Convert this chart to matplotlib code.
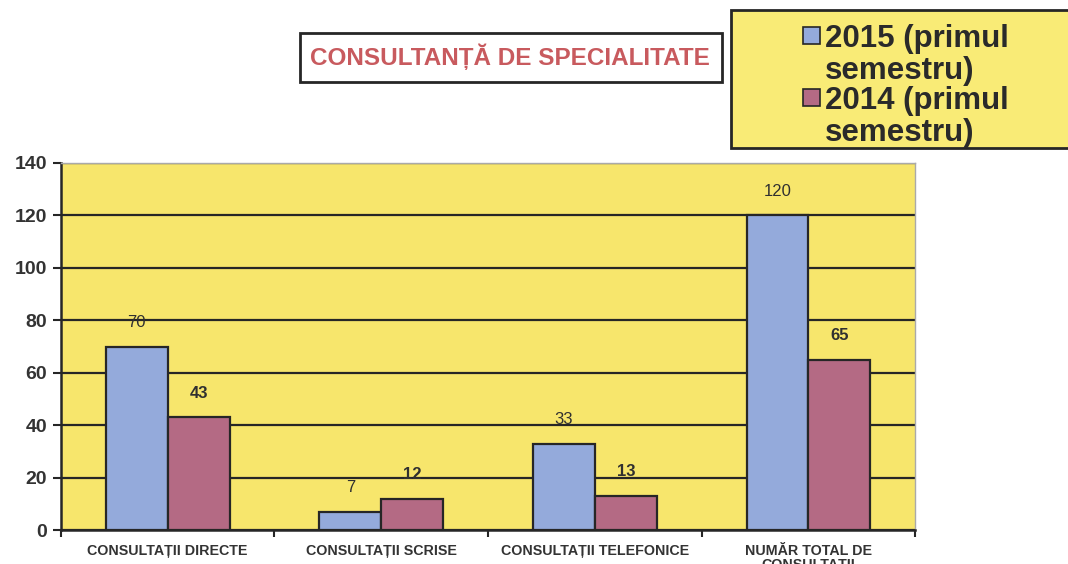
import matplotlib
matplotlib.use('Agg')
import matplotlib.pyplot as plt
from matplotlib.patches import Rectangle
import numpy as np

# data
categories = ['CONSULTAȚII DIRECTE', 'CONSULTAȚII SCRISE',
              'CONSULTAȚII TELEFONICE', 'NUMĂR TOTAL DE\nCONSULTAȚII']
series_names = ['2015 (primul\nsemestru)', '2014 (primul\nsemestru)']
values_2015 = [70, 7, 33, 120]
values_2014 = [43, 12, 13, 65]
yticks = [0, 20, 40, 60, 80, 100, 120, 140]
title = 'CONSULTANȚĂ DE SPECIALITATE'

plt.rcParams['font.family'] = ['Liberation Sans', 'DejaVu Sans']

YELLOW = '#F7E66C'
BLUE = '#94AADB'
MAROON = '#B46A84'
EDGE = '#262626'

fig = plt.figure(figsize=(10.68, 5.64), dpi=100)
ax = fig.add_axes([0.057, 0.060, 0.800, 0.651])
ax.set_facecolor(YELLOW)

x = np.arange(len(categories))
w = 0.29
b1 = ax.bar(x - w / 2, values_2015, w, color=BLUE, edgecolor=EDGE, linewidth=1.6, zorder=3)
b2 = ax.bar(x + w / 2, values_2014, w, color=MAROON, edgecolor=EDGE, linewidth=1.6, zorder=3)

for rect, v in zip(b1, values_2015):
    ax.annotate(str(v), (rect.get_x() + rect.get_width() / 2, v), xytext=(0, 12),
                textcoords='offset points', ha='center', va='bottom',
                fontsize=12, color='#303030', zorder=4)
for rect, v in zip(b2, values_2014):
    ax.annotate(str(v), (rect.get_x() + rect.get_width() / 2, v), xytext=(0, 12),
                textcoords='offset points', ha='center', va='bottom',
                fontsize=12, fontweight='bold', color='#303030', zorder=4)

ax.set_xlim(-0.5, len(categories) - 0.5)
ax.set_ylim(0, 140)
ax.set_yticks(yticks)
ax.set_yticklabels([str(t) for t in yticks], fontsize=14, fontweight='bold', color='#333333')
ax.yaxis.grid(True, color=EDGE, linewidth=1.6, zorder=1)
ax.set_axisbelow(True)

ax.set_xticks(x)
ax.set_xticklabels(categories, fontsize=10.3, fontweight='bold', color='#333333',
                   va='top', linespacing=1.0)
ax.set_xticks(np.arange(-0.5, len(categories)), minor=True)
ax.tick_params(axis='x', which='major', length=0, pad=10)
ax.tick_params(axis='x', which='minor', length=5, width=1.5, color=EDGE, direction='out')
ax.tick_params(axis='y', length=6, width=1.5, color=EDGE, pad=4)

for s in ['left', 'bottom']:
    ax.spines[s].set_color(EDGE)
    ax.spines[s].set_linewidth(1.8)
for s in ['top', 'right']:
    ax.spines[s].set_color('#aaaaaa')
    ax.spines[s].set_linewidth(1.0)

# title box
fig.patches.append(Rectangle((0.2809, 0.8546), 0.3951, 0.0869, transform=fig.transFigure,
                             facecolor='white', edgecolor=EDGE, linewidth=2))
fig.text(0.4775, 0.900, title, ha='center', va='center', fontsize=17.5,
         fontweight='bold', color='#C85A5E')

# legend box
fig.patches.append(Rectangle((0.6845, 0.7376), 0.34, 0.2447, transform=fig.transFigure,
                             facecolor='#F9EB76', edgecolor=EDGE, linewidth=2))
for i, (name, col) in enumerate(zip(series_names, [BLUE, MAROON])):
    ytop = 1 - (27 + i * 62) / 564
    fig.patches.append(Rectangle((803 / 1068, ytop - 17 / 564), 17 / 1068, 17 / 564,
                                 transform=fig.transFigure, facecolor=col,
                                 edgecolor=EDGE, linewidth=1.2))
    fig.text(825 / 1068, 1 - (24 + i * 62) / 564, name, ha='left', va='top',
             fontsize=22.5, fontweight='bold', color='#2a2a2a', linespacing=1.08)

fig.savefig('out.png', dpi=100)
